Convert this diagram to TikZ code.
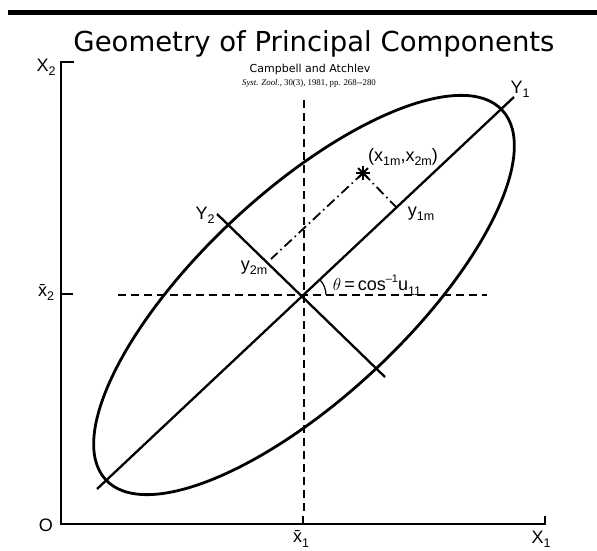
\documentclass[tikz,border=0pt]{standalone}
\usepackage{fontspec}
\setmainfont{Liberation Sans}
\newfontfamily\titlefont{DejaVu Sans}
\newfontfamily\citefont{Liberation Serif}
\usetikzlibrary{positioning}
\newcommand{\lowx}[1]{\raisebox{-0.45ex}{\fontsize{12.5}{12}\selectfont #1}}
\newcommand{\highx}[1]{\raisebox{0.9ex}{\fontsize{11}{10}\selectfont #1}}

\begin{document}
\begin{tikzpicture}[x=1pt,y=-1pt,
  axis/.style={line width=2.9pt},
  curve/.style={line width=2.8pt},
  pcline/.style={line width=2.3pt},
  guide/.style={line width=1.8pt,dash pattern=on 8pt off 5pt},
  proj/.style={line width=1.8pt,dash pattern=on 10pt off 4pt on 1.5pt off 4pt},
  lbl/.style={font=\fontsize{18}{18}\selectfont,inner sep=0pt}]
 \useasboundingbox (0,0) rectangle (597,551);
 \fill (8,10) rectangle (597,15);
 % heading
 \node[font=\titlefont\fontsize{27.5}{28}\selectfont] (title) at (314,44) {Geometry of Principal Components};
 \node[font=\titlefont\fontsize{11}{12}\selectfont] (auth) at (310,69) {Campbell and Atchlev};
 \node[font=\citefont\fontsize{8.8}{9}\selectfont] (cite) at (309,83) {\textit{Syst. Zool.}, 30(3), 1981, pp. 268--280};
 % axes
 \coordinate (ytick) at (74,62);
 \coordinate (ytop) at (61,62);
 \coordinate (org) at (61,524);
 \coordinate (xend) at (545,524);
 \coordinate (xtick) at (545,516);
 \draw[axis] (ytick) -- (ytop) -- (org) -- (xend) -- (xtick);
 \coordinate (m2) at (61,294);
 \coordinate (m2t) at (73,294);
 \coordinate (m1) at (303,524);
 \coordinate (m1t) at (303,516);
 \draw[axis] (m2) -- (m2t);
 \draw[axis] (m1) -- (m1t);
 \node[lbl] (X2) at (46,67) {X\lowx{2}};
 \node[lbl] (X1) at (541,539) {X\lowx{1}};
 \node[lbl] (O) at (46,525) {O};
 \node[lbl] (xb2) at (46,293) {\=x\lowx{2}};
 \node[lbl] (xb1) at (301,539) {\=x\lowx{1}};
 % mean lines
 \coordinate (c) at (304,295);
 \coordinate (vtop) at (304,100);
 \coordinate (vbot) at (304,514);
 \coordinate (hl) at (118,295);
 \coordinate (hr) at (487,295);
 \draw[guide] (vtop) -- (vbot);
 \draw[guide] (hl) -- (hr);
 % principal axes
 \coordinate (y1a) at (97,489);
 \coordinate (y1b) at (514,97);
 \coordinate (y2a) at (217,214);
 \coordinate (y2b) at (385,377);
 \draw[pcline] (y1a) -- (y1b);
 \draw[pcline] (y2a) -- (y2b);
 \draw[curve,rotate around={43:(c)}] (c) ellipse [x radius=271,y radius=103];
 \node[lbl] (Y1) at (520,89) {Y\lowx{1}};
 \node[lbl] (Y2) at (205,215) {Y\lowx{2}};
 % observation
 \coordinate (pt) at (363,173);
 \coordinate (f1) at (396,207);
 \coordinate (f2) at (271,259);
 \draw[proj] (pt) -- (f1);
 \draw[proj] (pt) -- (f2);
 \foreach \a in {0,45,90,135}
  \draw[line width=1.9pt] (pt) ++(\a:7) -- ++(\a+180:14);
 \node[lbl] (ptl) at (403,157) {(x\lowx{1m},x\lowx{2m})};
 \node[lbl] (y1m) at (421,214) {y\lowx{1m}};
 \node[lbl] (y2m) at (254,268) {y\lowx{2m}};
 \draw[line width=1.2pt] (326,295) arc[start angle=0,end angle=-43,radius=22];
 \node[lbl] (ang) at (377,285) {$\theta$\,=\,cos\highx{--1}u\lowx{11}};
\end{tikzpicture}
\end{document}
